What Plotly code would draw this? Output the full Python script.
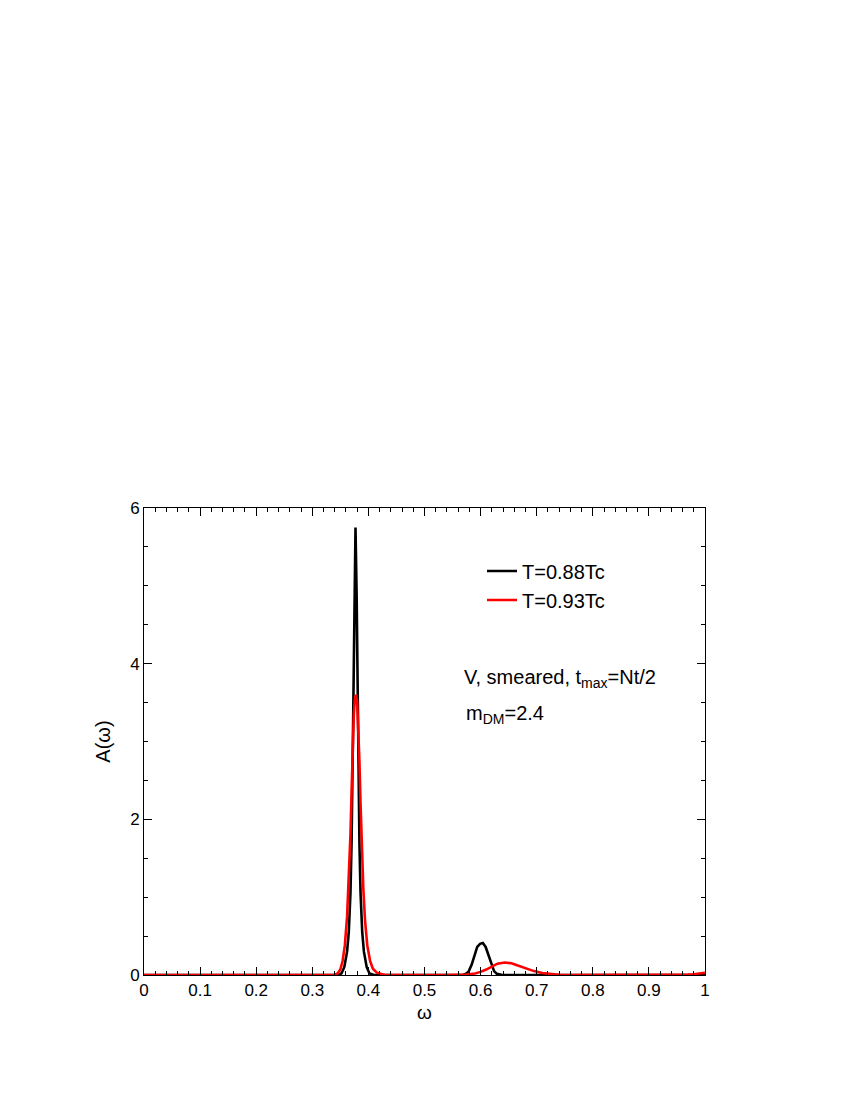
import plotly.graph_objects as go

# ---- data ----
omega_black = [0.0, 0.30, 0.347, 0.352, 0.357, 0.362, 0.365, 0.368, 0.370, 0.372,
               0.3735, 0.375, 0.377, 0.379, 0.3805, 0.382, 0.384, 0.386, 0.389,
               0.392, 0.397, 0.402, 0.41, 0.50, 0.56, 0.569, 0.574, 0.579, 0.584,
               0.589, 0.594, 0.599, 0.604, 0.609, 0.614, 0.619, 0.624, 0.629,
               0.634, 0.639, 0.65, 0.75, 1.0]
A_black = [0.0, 0.0, 0.0, 0.02, 0.1, 0.3, 0.55, 1.05, 1.7, 2.8,
           3.8, 4.9, 5.75, 4.9, 3.8, 2.8, 1.7, 1.05, 0.55,
           0.3, 0.1, 0.02, 0.0, 0.0, 0.0, 0.003, 0.015, 0.05, 0.13,
           0.25, 0.36, 0.40, 0.41, 0.36, 0.25, 0.13, 0.05, 0.015,
           0.004, 0.0, 0.0, 0.0, 0.0]

omega_red = [0.0, 0.30, 0.340, 0.345, 0.350, 0.354, 0.358, 0.362, 0.365, 0.368,
             0.370, 0.372, 0.374, 0.376, 0.378, 0.380, 0.382, 0.384, 0.386,
             0.388, 0.391, 0.394, 0.398, 0.403, 0.408, 0.415, 0.43, 0.54,
             0.56, 0.575, 0.59, 0.60, 0.61, 0.62, 0.63, 0.643, 0.655, 0.665,
             0.68, 0.695, 0.71, 0.725, 0.74, 0.76, 0.95, 0.97, 0.98, 0.99, 1.0]
A_red = [0.0, 0.0, 0.0, 0.02, 0.07, 0.18, 0.38, 0.75, 1.2, 1.8,
         2.35, 2.9, 3.35, 3.55, 3.6, 3.5, 3.2, 2.75, 2.2,
         1.7, 1.1, 0.7, 0.38, 0.18, 0.08, 0.03, 0.0, 0.0,
         0.0, 0.005, 0.02, 0.04, 0.07, 0.11, 0.145, 0.16, 0.15, 0.125,
         0.085, 0.05, 0.025, 0.01, 0.003, 0.0, 0.0, 0.005, 0.01, 0.02, 0.03]

series_names = ["T=0.88Tc", "T=0.93Tc"]
series_colors = ["#000000", "#ff0000"]

FONT = "Liberation Sans, Arial, Helvetica, sans-serif"

fig = go.Figure()
fig.add_trace(go.Scatter(x=omega_black, y=A_black, mode="lines", name=series_names[0],
                         line=dict(color=series_colors[0], width=2.6)))
fig.add_trace(go.Scatter(x=omega_red, y=A_red, mode="lines", name=series_names[1],
                         line=dict(color=series_colors[1], width=2.6)))

axis_common = dict(
    showgrid=False, zeroline=False, showline=True, linecolor="black", linewidth=1,
    mirror="allticks", ticks="inside", ticklen=8, tickwidth=1, tickcolor="black",
    tickfont=dict(family=FONT, size=17, color="black"),
)

fig.update_xaxes(range=[0, 1], dtick=0.1, tick0=0,
                 minor=dict(dtick=0.02, ticks="inside", ticklen=4, tickcolor="black", showgrid=False),
                 title=dict(text="ω", font=dict(family=FONT, size=19, color="black"), standoff=6),
                 **axis_common)
fig.update_yaxes(range=[0, 6], dtick=2, tick0=0,
                 minor=dict(dtick=0.5, ticks="inside", ticklen=4, tickcolor="black", showgrid=False),
                 title=dict(text="A(ω)", font=dict(family=FONT, size=20, color="black"), standoff=14),
                 **axis_common)

fig.add_annotation(xref="paper", yref="paper", x=0.567, y=0.634, xanchor="left", yanchor="middle",
                   text="V, smeared, t<sub>max</sub>=Nt/2", showarrow=False,
                   font=dict(family=FONT, size=20, color="black"))
fig.add_annotation(xref="paper", yref="paper", x=0.570, y=0.557, xanchor="left", yanchor="middle",
                   text="m<sub>DM</sub>=2.4", showarrow=False,
                   font=dict(family=FONT, size=20, color="black"))

fig.update_layout(
    width=850, height=1100,
    margin=dict(l=136, r=153, t=500, b=133),
    paper_bgcolor="white", plot_bgcolor="white",
    showlegend=True,
    legend=dict(x=0.6025, y=0.834, xanchor="left", yanchor="middle",
                bgcolor="rgba(0,0,0,0)", borderwidth=0, tracegroupgap=0,
                font=dict(family=FONT, size=20, color="black")),
    font=dict(family=FONT, size=17, color="black"),
)

fig.write_html("out.html")
